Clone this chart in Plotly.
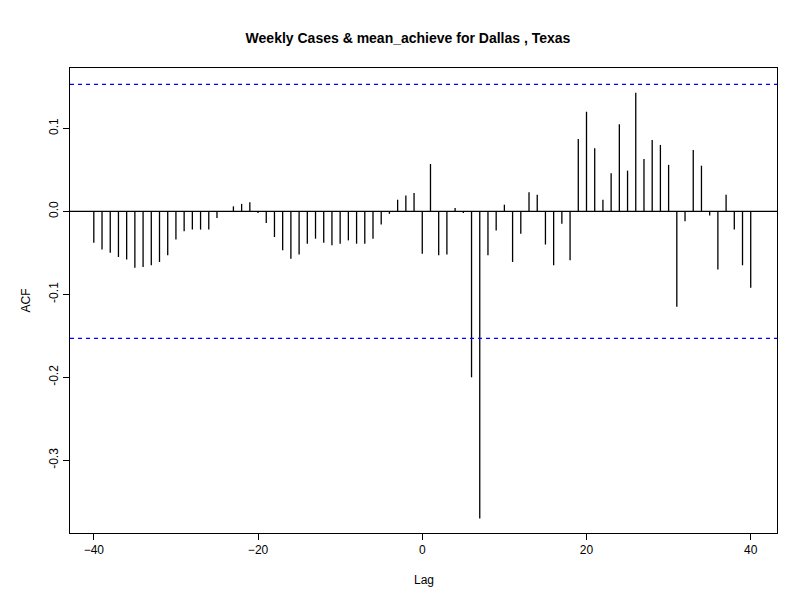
import plotly.graph_objects as go

lags = list(range(-40, 41))
acf = [
    -0.038, -0.046, -0.050, -0.055, -0.058, -0.068, -0.067, -0.065, -0.061, -0.053,
    -0.034, -0.024, -0.022, -0.022, -0.022, -0.008, 0.000, 0.006, 0.009, 0.011,
    -0.002, -0.014, -0.031, -0.047, -0.057, -0.052, -0.039, -0.033, -0.038, -0.041,
    -0.039, -0.035, -0.039, -0.039, -0.033, -0.016, -0.003, 0.014, 0.019, 0.022,
    -0.051, 0.057, -0.053, -0.052, 0.004, -0.002, -0.200, -0.370, -0.053, -0.023,
    0.008, -0.061, -0.027, 0.023, 0.020, -0.040, -0.065, -0.015, -0.059, 0.087,
    0.120, 0.076, 0.014, 0.046, 0.105, 0.049, 0.143, 0.063, 0.086, 0.080,
    0.056, -0.115, -0.012, 0.074, 0.055, -0.005, -0.070, 0.020, -0.022, -0.065,
    -0.092,
]
ci = 0.153
title = "Weekly Cases & mean_achieve for Dallas , Texas"

xs, ys = [], []
for l, v in zip(lags, acf):
    xs += [l, l, None]
    ys += [0, v, None]

fig = go.Figure()
fig.add_trace(go.Scatter(x=xs, y=ys, mode="lines", line=dict(color="black", width=1.3),
                         hoverinfo="skip"))
fig.add_hline(y=0, line=dict(color="black", width=1.2))
for c in (ci, -ci):
    fig.add_hline(y=c, line=dict(color="blue", width=1.2, dash="4px,4px"))

axis = dict(showgrid=False, zeroline=False, showline=True, mirror=True, linecolor="black",
            linewidth=1, ticks="outside", ticklen=6, tickcolor="black",
            tickfont=dict(family="Liberation Sans, Arial", size=12, color="black"))
fig.update_layout(
    width=800, height=600, showlegend=False,
    plot_bgcolor="white", paper_bgcolor="white",
    margin=dict(l=62, r=31, t=60, b=75, autoexpand=False),
    title=dict(text="<b>" + title + "</b>", x=0.5, xanchor="center", y=0.958,
               font=dict(family="Liberation Sans, Arial", size=14, color="black")),
    xaxis=dict(axis, range=[-42.9, 43.2], tickvals=[-40, -20, 0, 20, 40]),
    yaxis=dict(axis, range=[-0.3876, 0.1727], tickvals=[-0.3, -0.2, -0.1, 0.0, 0.1],
               ticktext=["-0.3", "-0.2", "-0.1", "0.0", "0.1"], tickangle=-90),
)
fig.add_annotation(text="Lag", x=0.5, xref="paper", y=-0.12, yref="paper", showarrow=False,
                   font=dict(family="Liberation Sans, Arial", size=12, color="black"))
fig.add_annotation(text="ACF", x=-0.075, xref="paper", y=0.5, yref="paper", showarrow=False,
                   textangle=-90, font=dict(family="Liberation Sans, Arial", size=12, color="black"))
fig.write_html("out.html")
